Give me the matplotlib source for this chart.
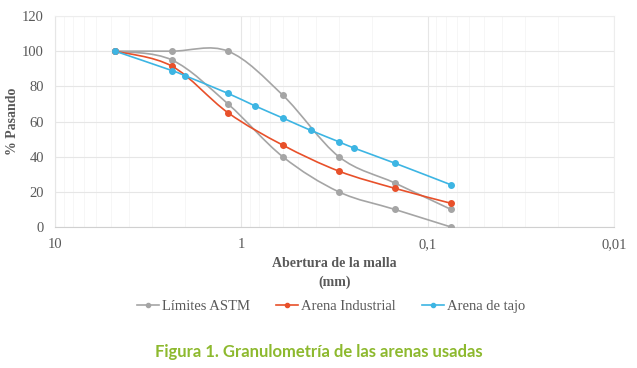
import numpy as np
import matplotlib
matplotlib.use('Agg')
import matplotlib.pyplot as plt
from matplotlib.path import Path
from matplotlib.patches import PathPatch
from matplotlib.lines import Line2D

# sieve openings (mm) and % passing
astm_x = [4.75, 2.36, 1.18, 0.6, 0.3, 0.15, 0.075]
astm_sup = [100, 100, 100, 75, 40, 25, 10]
astm_inf = [100, 95, 70, 40, 20, 10, 0]

ind_x = [4.75, 2.36, 1.18, 0.6, 0.3, 0.15, 0.075]
ind_y = [100, 91.5, 65, 46.6, 31.8, 22, 13.5]

tajo_x = [4.75, 2.36, 2.0, 1.18, 0.85, 0.6, 0.425, 0.3, 0.25, 0.15, 0.075]
tajo_y = [100, 89, 86, 76, 69, 62, 55, 48.5, 45, 36.3, 24]

GRAY = '#A5A5A5'
RED = '#E8502A'
BLUE = '#3DB5E3'
SERIF = ['Liberation Serif', 'DejaVu Serif']


def smooth_path(xs, ys):
    # Excel-like smoothed line: cubic bezier in log-x space
    lx = np.log10(xs)
    ys = np.asarray(ys, float)
    n = len(lx)
    verts = [(xs[0], ys[0])]
    codes = [Path.MOVETO]
    for i in range(n - 1):
        p0 = (lx[max(i - 1, 0)], ys[max(i - 1, 0)])
        p1 = (lx[i], ys[i])
        p2 = (lx[i + 1], ys[i + 1])
        p3 = (lx[min(i + 2, n - 1)], ys[min(i + 2, n - 1)])
        c1 = (p1[0] + (p2[0] - p0[0]) / 6, p1[1] + (p2[1] - p0[1]) / 6)
        c2 = (p2[0] - (p3[0] - p1[0]) / 6, p2[1] - (p3[1] - p1[1]) / 6)
        for c in (c1, c2, p2):
            verts.append((10 ** c[0], c[1]))
        codes += [Path.CURVE4] * 3
    return Path(verts, codes)


fig = plt.figure(figsize=(6.37, 3.68), dpi=100)
ax = fig.add_axes([0.0863, 0.383, 0.878, 0.5735])

for xs, ys, col in [(astm_x, astm_sup, GRAY), (astm_x, astm_inf, GRAY),
                    (ind_x, ind_y, RED), (tajo_x, tajo_y, BLUE)]:
    ax.add_patch(PathPatch(smooth_path(xs, ys), fill=False, edgecolor=col, lw=1.2, zorder=3))
    ax.plot(xs, ys, linestyle='none', marker='o', ms=4, color=col, zorder=4)

ax.set_xscale('log')
ax.set_xlim(10, 0.01)
ax.set_ylim(0, 120)
ax.set_yticks(range(0, 121, 20))
ax.set_xticks([10, 1, 0.1, 0.01])
ax.set_xticklabels(['10', '1', '0,1', '0,01'])
ax.grid(which='major', color='#E6E6E6', lw=0.8)
ax.grid(which='minor', axis='x', color='#F5F5F5', lw=0.6)
ax.set_axisbelow(True)
for s in ['top', 'right']:
    ax.spines[s].set_color('#EDEDED')
ax.spines['left'].set_color('#E6E6E6')
ax.spines['bottom'].set_color('#D0D0D0')
ax.tick_params(which='both', length=0, labelsize=10.5, labelcolor='#595959', pad=8)
for lab in ax.get_xticklabels() + ax.get_yticklabels():
    lab.set_family(SERIF)

ax.set_xlabel('Abertura de la malla\n(mm)', family=SERIF, fontsize=10, fontweight='bold',
              color='#595959', labelpad=4, linespacing=1.55)
ax.set_ylabel('% Pasando', family=SERIF, fontsize=10, fontweight='bold', color='#595959')
ax.yaxis.set_label_coords(-0.064, 0.5)

handles = [Line2D([], [], color=c, marker='o', ms=3, lw=1.2) for c in (GRAY, RED, BLUE)]
fig.legend(handles, ['Límites ASTM', 'Arena Industrial', 'Arena de tajo'], loc='center',
           bbox_to_anchor=(0.52, 0.168), ncol=3, frameon=False, handlelength=1.5,
           handletextpad=0.2, columnspacing=1.8, prop={'family': SERIF, 'size': 10.5},
           labelcolor='#595959')

fig.text(0.5, 0.043, 'Figura 1. Granulometría de las arenas usadas', ha='center', va='center',
         fontsize=12, fontweight='bold', color='#8DB92E', family=['Lato', 'DejaVu Sans'])

fig.savefig('out.png', dpi=100)
